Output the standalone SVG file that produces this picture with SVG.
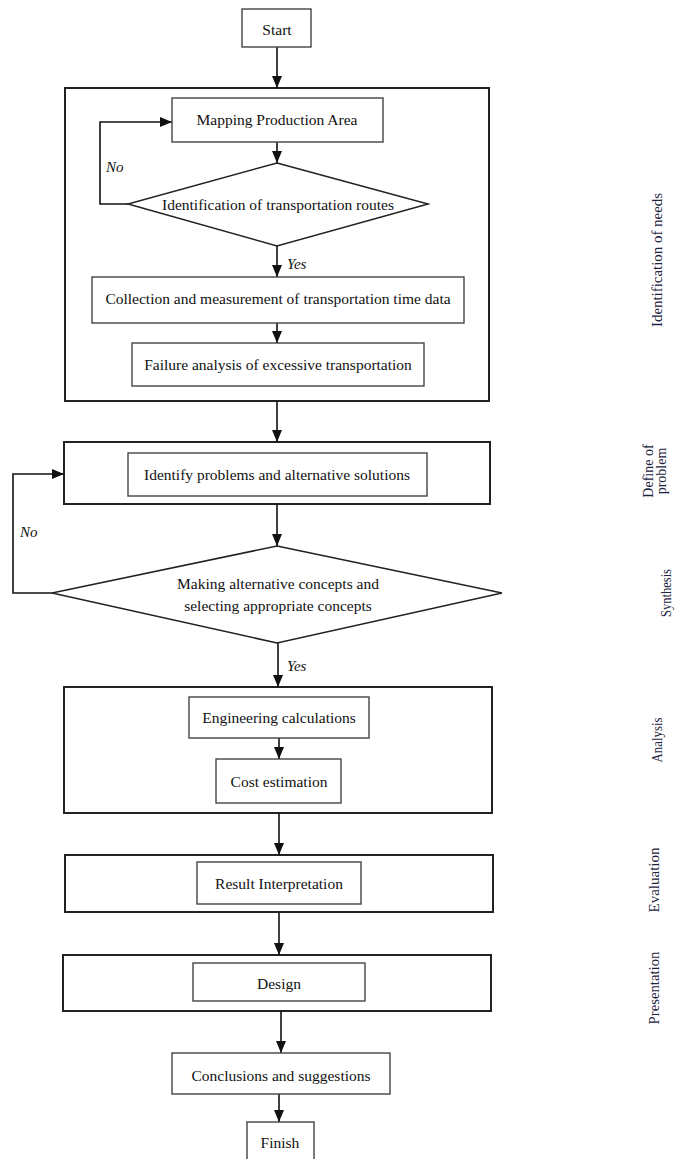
<svg xmlns="http://www.w3.org/2000/svg" width="675" height="1159" viewBox="0 0 675 1159">
<style>
.outer{fill:none;stroke:#222;stroke-width:2}
.inner{fill:#fff;stroke:#444;stroke-width:1.4}
.dia{fill:#fff;stroke:#222;stroke-width:1.5}
.t{font-family:"Liberation Serif","Times New Roman",serif;font-size:15.5px;fill:#111;text-anchor:middle;dominant-baseline:central}
.lbl{font-family:"Liberation Serif","Times New Roman",serif;font-size:15px;font-style:italic;fill:#111}
.side{font-family:"Liberation Serif","Times New Roman",serif;font-size:14px;fill:#1c2340;text-anchor:middle;dominant-baseline:central}
.con{fill:none;stroke:#111;stroke-width:1.6}
</style>
<defs>
<marker id="ah" markerUnits="userSpaceOnUse" markerWidth="12" markerHeight="12" viewBox="0 0 12 12" refX="12" refY="6" orient="auto">
<path d="M0,1 L12,6 L0,11 Z" fill="#111"/>
</marker>
</defs>
<rect width="675" height="1159" fill="#fff"/>

<g id="stage-needs"><rect class="outer" x="65" y="88" width="424" height="313"/><text class="side" transform="translate(657,260) rotate(-90)" textLength="134" lengthAdjust="spacingAndGlyphs">Identification of needs</text></g>
<g id="stage-define"><rect class="outer" x="64" y="442" width="426" height="62"/><text class="side" transform="translate(648,471) rotate(-90)">Define of</text><text class="side" transform="translate(661,471) rotate(-90)">problem</text></g>
<g id="stage-synthesis"><text class="side" transform="translate(666,593) rotate(-90)" textLength="48" lengthAdjust="spacingAndGlyphs">Synthesis</text></g>
<g id="stage-analysis"><rect class="outer" x="64" y="687" width="428" height="126"/><text class="side" transform="translate(657,740) rotate(-90)" textLength="45" lengthAdjust="spacingAndGlyphs">Analysis</text></g>
<g id="stage-evaluation"><rect class="outer" x="65" y="855" width="428" height="57"/><text class="side" transform="translate(654,880) rotate(-90)" textLength="65" lengthAdjust="spacingAndGlyphs">Evaluation</text></g>
<g id="stage-presentation"><rect class="outer" x="63" y="955" width="428" height="56"/><text class="side" transform="translate(654,988) rotate(-90)" textLength="73" lengthAdjust="spacingAndGlyphs">Presentation</text></g>

<g id="connectors">
<line class="con" x1="277" y1="47" x2="277" y2="88" marker-end="url(#ah)"/>
<line class="con" x1="277" y1="142" x2="277" y2="163" marker-end="url(#ah)"/>
<path class="con" d="M128,204 H100 V122 H172" marker-end="url(#ah)"/>
<line class="con" x1="277" y1="246" x2="277" y2="277" marker-end="url(#ah)"/>
<line class="con" x1="277" y1="323" x2="277" y2="343" marker-end="url(#ah)"/>
<line class="con" x1="277" y1="401" x2="277" y2="442" marker-end="url(#ah)"/>
<line class="con" x1="277" y1="504" x2="277" y2="546" marker-end="url(#ah)"/>
<path class="con" d="M52,593 H13 V474 H64" marker-end="url(#ah)"/>
<line class="con" x1="278" y1="643" x2="278" y2="687" marker-end="url(#ah)"/>
<line class="con" x1="279" y1="738" x2="279" y2="759" marker-end="url(#ah)"/>
<line class="con" x1="279" y1="813" x2="279" y2="855" marker-end="url(#ah)"/>
<line class="con" x1="279" y1="912" x2="279" y2="955" marker-end="url(#ah)"/>
<line class="con" x1="281" y1="1011" x2="281" y2="1053" marker-end="url(#ah)"/>
<line class="con" x1="279" y1="1094" x2="279" y2="1122" marker-end="url(#ah)"/>
<text class="lbl" x="106" y="172">No</text>
<text class="lbl" x="287" y="269">Yes</text>
<text class="lbl" x="20" y="537">No</text>
<text class="lbl" x="287" y="671">Yes</text>
</g>

<g id="start"><rect class="inner" x="242" y="9" width="69" height="38"/><text class="t" x="277" y="29">Start</text></g>
<g id="mapping"><rect class="inner" x="172" y="98" width="211" height="44"/><text class="t" x="277" y="119">Mapping Production Area</text></g>
<g id="routes"><polygon class="dia" points="277,163 428,204 277,246 128,204"/><text class="t" x="278" y="204">Identification of transportation routes</text></g>
<g id="collection"><rect class="inner" x="92" y="277" width="372" height="46"/><text class="t" x="278" y="298">Collection and measurement of transportation time data</text></g>
<g id="failure"><rect class="inner" x="132" y="343" width="292" height="43"/><text class="t" x="278" y="364">Failure analysis of excessive transportation</text></g>
<g id="identify"><rect class="inner" x="128" y="453" width="299" height="43"/><text class="t" x="277" y="474">Identify problems and alternative solutions</text></g>
<g id="concepts"><polygon class="dia" points="277,546 502,593 277,643 52,593"/><text class="t" x="278" y="583">Making alternative concepts and</text><text class="t" x="278" y="605">selecting appropriate concepts</text></g>
<g id="engineering"><rect class="inner" x="189" y="697" width="180" height="41"/><text class="t" x="279" y="717">Engineering calculations</text></g>
<g id="cost"><rect class="inner" x="216" y="759" width="125" height="44"/><text class="t" x="279" y="781">Cost estimation</text></g>
<g id="result"><rect class="inner" x="197" y="862" width="164" height="42"/><text class="t" x="279" y="883">Result Interpretation</text></g>
<g id="design"><rect class="inner" x="193" y="963" width="172" height="38"/><text class="t" x="279" y="983">Design</text></g>
<g id="conclusions"><rect class="inner" x="172" y="1053" width="218" height="41"/><text class="t" x="281" y="1075">Conclusions and suggestions</text></g>
<g id="finish"><rect class="inner" x="247" y="1122" width="67" height="45"/><text class="t" x="280" y="1142">Finish</text></g>
</svg>
